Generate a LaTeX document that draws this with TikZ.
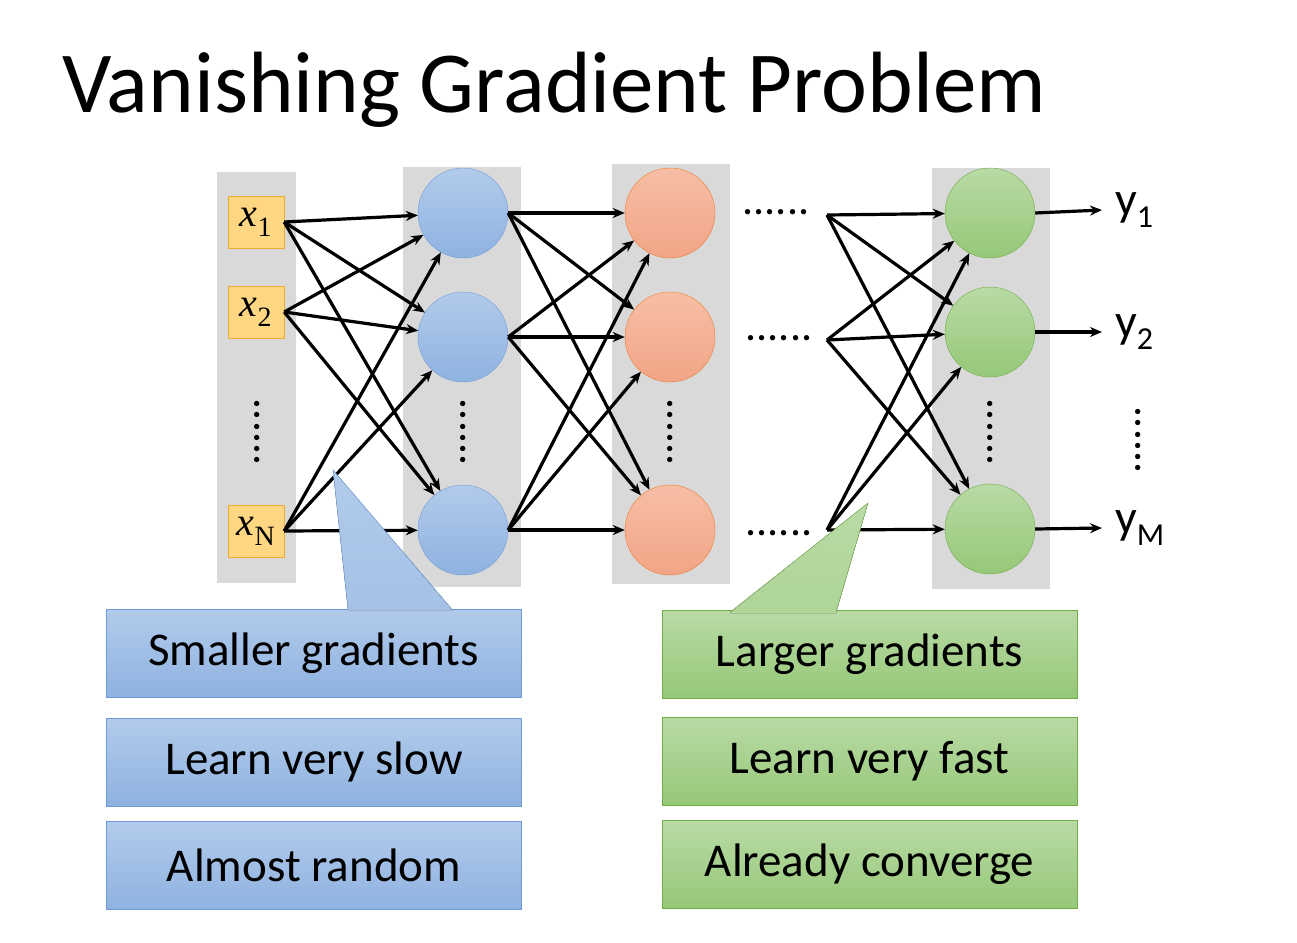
\documentclass[tikz,border=0pt]{standalone}
\usepackage{fontspec}
\setmainfont{Carlito}
\newfontfamily\serifx{Liberation Serif}
\usetikzlibrary{arrows.meta}
\definecolor{bT}{RGB}{178,203,235}
\definecolor{bB}{RGB}{143,178,224}
\definecolor{bD}{RGB}{110,155,215}
\definecolor{oT}{RGB}{247,190,165}
\definecolor{oB}{RGB}{242,165,135}
\definecolor{oD}{RGB}{237,125,49}
\definecolor{gT}{RGB}{185,218,165}
\definecolor{gB}{RGB}{150,200,120}
\definecolor{gD}{RGB}{112,173,71}
\definecolor{yF}{RGB}{255,215,130}
\definecolor{yD}{RGB}{240,170,50}
\begin{document}
\begin{tikzpicture}[x=1pt,y=-1pt,
 gray/.style={fill=black!15,draw=none},
 inp/.style={draw=yD,fill=yF,minimum width=56pt,minimum height=52pt,inner sep=0pt,font=\fontsize{40}{40}\selectfont\serifx},
 neu/.style={circle,minimum size=90pt,inner sep=0pt},
 bl/.style={neu,draw=bD,top color=bT,bottom color=bB},
 or/.style={neu,draw=oD,top color=oT,bottom color=oB},
 gr/.style={neu,draw=gD,top color=gT,bottom color=gB},
 ar/.style={-{Stealth[length=12pt,width=10pt]},line width=3.2pt},
 box/.style={minimum width=415pt,minimum height=88pt,inner sep=0pt,font=\fontsize{47}{47}\selectfont},
 bbox/.style={box,draw=bD,top color=bT,bottom color=bB},
 gbox/.style={box,draw=gD,top color=gT,bottom color=gB},
 dots/.style={font=\fontsize{44}{44}\selectfont,inner sep=0pt},
 ]
\useasboundingbox (0,0) rectangle (1297,942);
\node[anchor=base west,font=\fontsize{87}{87}\selectfont,inner sep=0pt] (title) at (62,112) {Vanishing Gradient Problem};
\fill[gray] (217,172) rectangle (296,583);
\fill[gray] (403,167) rectangle (521,587);
\fill[gray] (612,164) rectangle (730,584);
\fill[gray] (932,168) rectangle (1050,589);
\node[inp] (x1) at (256,222) {\itshape x\textsubscript{\upshape\fontsize{28}{28}\selectfont 1}};
\node[inp] (x2) at (256,312) {\itshape x\textsubscript{\upshape\fontsize{28}{28}\selectfont 2}};
\node[inp] (xN) at (256,531) {\itshape x\textsubscript{\upshape\fontsize{28}{28}\selectfont N}};
\foreach \n/\y in {1/213,2/337,3/530}{
 \node[bl] (a\n) at (463,\y) {};
 \node[or] (b\n) at (670,\y) {};
}
\foreach \n/\y in {1/213,2/332,3/529}{
 \node[gr] (c\n) at (990,\y) {};
}
\coordinate (d1) at (827,215);
\coordinate (d2) at (827,340);
\coordinate (d3) at (827,530);
\foreach \i in {x1,x2,xN}{\foreach \j in {a1,a2,a3}{\draw[ar] (\i.east) -- (\j);}}
\foreach \i in {a1,a2,a3}{\foreach \j in {b1,b2,b3}{\draw[ar] (\i.east) -- (\j);}}
\foreach \i in {d1,d2,d3}{\foreach \j in {c1,c2,c3}{\draw[ar] (\i) -- (\j);}}
% horizontal dots
\node[dots,anchor=base] (h1) at (776,214) {......};
\node[dots,anchor=base] (h2) at (779,340) {......};
\node[dots,anchor=base] (h3) at (779,535) {......};
% vertical dots
\node[dots,rotate=90,anchor=base] (v0) at (259,432) {......};
\node[dots,rotate=90,anchor=base] (v1) at (465,432) {......};
\node[dots,rotate=90,anchor=base] (v2) at (672,432) {......};
\node[dots,rotate=90,anchor=base] (v3) at (992,432) {......};
\node[dots,rotate=90,anchor=base] (v4) at (1140,440) {......};
% outputs
\foreach \n/\y/\l in {1/210/1,2/332/2,3/528/M}{
 \coordinate (o\n) at (1102,\y);
 \draw[ar] (c\n.east) -- (o\n);
 \node[anchor=west,font=\fontsize{48}{48}\selectfont,inner sep=0pt] (yl\n) at (1115,\y) {y\textsubscript{\fontsize{32}{32}\selectfont\l}};
}
% callouts
\node[bbox] (s1) at (313.5,653) {Smaller gradients};
\fill[top color=bT,bottom color=bT!60!bB] (348,610) -- (333,470) -- (452,610) -- cycle;
\draw[bD] (348,609) -- (333,470) -- (452,609);
\node[gbox] (g1) at (869.5,654) {Larger gradients};
\fill[top color=gT,bottom color=gT!70!gB] (730,613) -- (868,503) -- (836,613) -- cycle;
\draw[gD] (730,612) -- (868,503) -- (836,612);
\node[bbox] (s2) at (314,762) {Learn very slow};
\node[bbox] (s3) at (314,865.5) {Almost random};
\node[gbox] (g2) at (869.5,761.5) {Learn very fast};
\node[gbox] (g3) at (869.5,864.5) {Already converge};
\end{tikzpicture}
\end{document}
